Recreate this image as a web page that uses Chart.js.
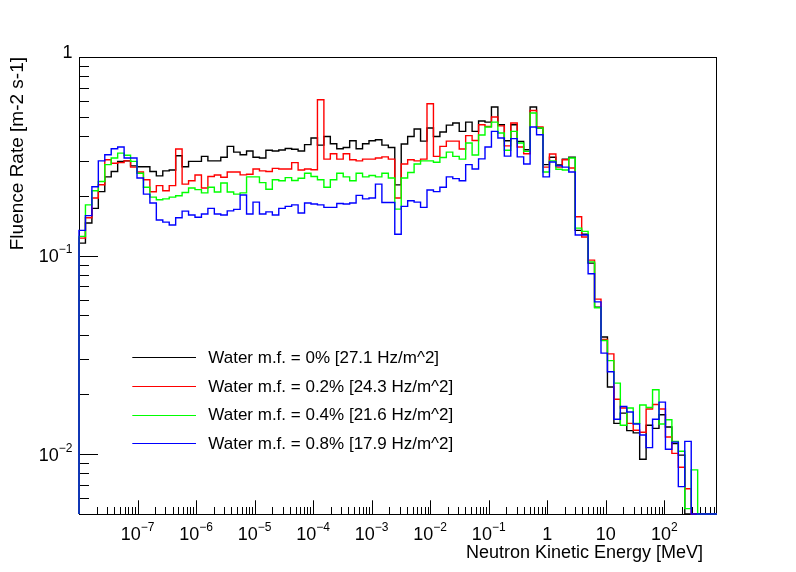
<!DOCTYPE html>
<html>
<head>
<meta charset="utf-8">
<script src="https://cdn.jsdelivr.net/npm/chart.js@4.4.0/dist/chart.umd.min.js"></script>
<style>
  html, body { margin: 0; padding: 0; background: #fff; }
  #wrap { width: 796px; height: 572px; }
</style>
</head>
<body>
<div id="wrap"><canvas id="fluenceChart"></canvas></div>
<script>
// histogram binning: 99 log-spaced bins
const binLogMin = -8;
const binLogMax = 2.9;
const nBins = 99;

const seriesLabels = [
  "Water m.f. = 0% [27.1 Hz/m^2]",
  "Water m.f. = 0.2% [24.3 Hz/m^2]",
  "Water m.f. = 0.4% [21.6 Hz/m^2]",
  "Water m.f. = 0.8% [17.9 Hz/m^2]",
];
const seriesColors = ["#000000", "#ff0000", "#00ff00", "#0000ff"];

// fluence rate per bin [m-2 s-1]
const water0 = [
  0.1156, 0.146, 0.173, 0.21, 0.249, 0.265, 0.298, 0.30, 0.283, 0.28,
  0.28, 0.265, 0.252, 0.267, 0.27, 0.318, 0.28, 0.298, 0.298, 0.316,
  0.30, 0.30, 0.313, 0.355, 0.332, 0.322, 0.336, 0.313, 0.31, 0.339,
  0.336, 0.34, 0.346, 0.343, 0.336, 0.362, 0.391, 0.36, 0.398, 0.366,
  0.345, 0.35, 0.379, 0.345, 0.366, 0.379, 0.383, 0.36, 0.35, 0.227,
  0.365, 0.398, 0.434, 0.377, 0.439, 0.398, 0.419, 0.454, 0.465, 0.422,
  0.47, 0.422, 0.476, 0.47, 0.56, 0.456, 0.379, 0.456, 0.376, 0.341,
  0.56, 0.439, 0.287, 0.313, 0.286, 0.306, 0.313, 0.134, 0.128, 0.0917,
  0.055, 0.0389, 0.0218, 0.0143, 0.0161, 0.01315, 0.0128, 0.00944, 0.014, 0.0135,
  0.0158, 0.0137, 0.0113, 0.0099, 0, 0, 0, 0, 0,
];
const water02 = [
  0.1225, 0.155, 0.195, 0.2275, 0.304, 0.292, 0.294, 0.30, 0.279, 0.2635,
  0.241, 0.2095, 0.225, 0.212, 0.225, 0.344, 0.229, 0.238, 0.2545, 0.219,
  0.25, 0.2545, 0.248, 0.2635, 0.2635, 0.255, 0.257, 0.273, 0.267, 0.265,
  0.275, 0.273, 0.273, 0.294, 0.27, 0.273, 0.2705, 0.609, 0.306, 0.326,
  0.306, 0.326, 0.304, 0.30, 0.306, 0.306, 0.31, 0.314, 0.306, 0.195,
  0.289, 0.304, 0.30, 0.306, 0.582, 0.316, 0.355, 0.377, 0.377, 0.344,
  0.402, 0.38, 0.456, 0.447, 0.499, 0.45, 0.357, 0.465, 0.352, 0.326,
  0.538, 0.444, 0.279, 0.325, 0.279, 0.304, 0.276, 0.157, 0.124, 0.0949,
  0.0604, 0.0378, 0.032, 0.0189, 0.0171, 0.0143, 0.0132, 0.0129, 0.0169, 0.0178,
  0.0169, 0.0122, 0.0101, 0.0086, 0.0067, 0, 0, 0, 0,
];
const water04 = [
  0.125, 0.18, 0.212, 0.236, 0.287, 0.31, 0.328, 0.32, 0.298, 0.26,
  0.221, 0.197, 0.191, 0.193, 0.197, 0.20, 0.208, 0.219, 0.215, 0.207,
  0.221, 0.209, 0.232, 0.209, 0.204, 0.207, 0.249, 0.249, 0.233, 0.216,
  0.241, 0.238, 0.247, 0.239, 0.245, 0.26, 0.25, 0.241, 0.221, 0.241,
  0.26, 0.249, 0.238, 0.26, 0.249, 0.253, 0.249, 0.26, 0.246, 0.1715,
  0.246, 0.262, 0.289, 0.30, 0.30, 0.295, 0.312, 0.332, 0.316, 0.306,
  0.369, 0.321, 0.405, 0.444, 0.47, 0.414, 0.339, 0.422, 0.369, 0.335,
  0.522, 0.439, 0.2635, 0.30, 0.272, 0.27, 0.31, 0.1375, 0.1325, 0.093,
  0.0546, 0.0374, 0.0296, 0.0228, 0.014, 0.0171, 0.0143, 0.0177, 0.0172, 0.0211,
  0.0142, 0.0149, 0.0116, 0.01035, 0.00532, 0.00834, 0, 0, 0,
];
const water08 = [
  0.134, 0.159, 0.222, 0.30, 0.322, 0.345, 0.352, 0.31, 0.31, 0.246,
  0.204, 0.184, 0.151, 0.1475, 0.1425, 0.155, 0.1675, 0.16, 0.156, 0.162,
  0.173, 0.162, 0.16, 0.168, 0.171, 0.202, 0.162, 0.186, 0.162, 0.166,
  0.16, 0.173, 0.177, 0.18, 0.164, 0.184, 0.182, 0.18, 0.175, 0.175,
  0.183, 0.182, 0.184, 0.201, 0.193, 0.195, 0.229, 0.185, 0.185, 0.128,
  0.177, 0.189, 0.186, 0.175, 0.214, 0.21, 0.221, 0.249, 0.244, 0.238,
  0.287, 0.273, 0.307, 0.352, 0.422, 0.391, 0.317, 0.388, 0.314, 0.289,
  0.444, 0.406, 0.249, 0.296, 0.283, 0.279, 0.2635, 0.127, 0.127, 0.081,
  0.0585, 0.0323, 0.026, 0.015, 0.0174, 0.0163, 0.0142, 0.0125, 0.0108, 0.015,
  0.0183, 0.0106, 0.0115, 0.00687, 0.0116, 0, 0, 0, 0,
];

const xTickValues = [1e-7, 1e-6, 1e-5, 1e-4, 1e-3, 1e-2, 1e-1, 1, 10, 100];
const xTickLabels = ["10^-7", "10^-6", "10^-5", "10^-4", "10^-3", "10^-2", "10^-1", "1", "10", "10^2"];
const yTickValues = [0.01, 0.1, 1];
const yTickLabels = ["10^-2", "10^-1", "1"];

const xMin = 1e-8;
const xMax = Math.pow(10, 2.9);
const yMin = 0.005;
const yMax = 1;

const FONT = "'Liberation Sans', Arial, Helvetica, sans-serif";

// outline of a ROOT-style histogram, starting and ending on the baseline
function histPoints(values) {
  const step = (binLogMax - binLogMin) / nBins;
  const edge = (k) => Math.pow(10, binLogMin + k * step);
  const pts = [{ x: edge(0), y: yMin }];
  values.forEach((v, i) => pts.push({ x: edge(i), y: v > 0 ? v : yMin }));
  const last = values[values.length - 1];
  pts.push({ x: edge(nBins), y: last > 0 ? last : yMin });
  pts.push({ x: edge(nBins), y: yMin });
  return pts;
}

function drawPowLabel(ctx, text, x, y, align) {
  const parts = text.split("^");
  const base = parts[0];
  const exp = parts[1] ? parts[1].replace("-", "\u2212") : "";
  ctx.font = "18px " + FONT;
  const wb = ctx.measureText(base).width;
  ctx.font = "12px " + FONT;
  const we = exp ? ctx.measureText(exp).width : 0;
  const w = wb + we;
  let x0 = align === "right" ? x - w : x - w / 2;
  ctx.textAlign = "left";
  ctx.textBaseline = "alphabetic";
  ctx.font = "18px " + FONT;
  ctx.fillText(base, x0, y);
  if (exp) {
    ctx.font = "12px " + FONT;
    ctx.fillText(exp, x0 + wb, y - 9.3);
  }
}

const rootStyle = {
  id: "rootStyle",
  beforeDatasetsDraw(chart) {
    const { ctx, chartArea: a, scales } = chart;
    ctx.save();
    ctx.strokeStyle = "#000";
    ctx.lineWidth = 1;
    ctx.strokeRect(a.left + 0.5, a.top + 0.5, a.right - a.left - 1, a.bottom - a.top);
    ctx.beginPath();
    for (let n = -8; n <= 3; n++) {
      for (let m = 1; m <= 9; m++) {
        const v = m * Math.pow(10, n);
        if (v < xMin || v > xMax) continue;
        const px = Math.round(scales.x.getPixelForValue(v)) + 0.5;
        const len = m === 1 ? 13.7 : 7;
        ctx.moveTo(px, a.bottom);
        ctx.lineTo(px, a.bottom - len);
      }
    }
    for (let n = -3; n <= 0; n++) {
      for (let m = 1; m <= 9; m++) {
        const v = m * Math.pow(10, n);
        if (v < yMin || v > yMax) continue;
        const py = Math.round(scales.y.getPixelForValue(v)) + 0.5;
        const len = m === 1 ? 19 : 10;
        ctx.moveTo(a.left, py);
        ctx.lineTo(a.left + len, py);
      }
    }
    ctx.stroke();
    ctx.restore();
  },
  afterDraw(chart) {
    const { ctx, chartArea: a, scales } = chart;
    ctx.save();
    ctx.fillStyle = "#000";
    xTickValues.forEach((v, i) => {
      drawPowLabel(ctx, xTickLabels[i], scales.x.getPixelForValue(v), a.bottom + 26, "center");
    });
    yTickValues.forEach((v, i) => {
      const py = scales.y.getPixelForValue(v);
      const hasExp = yTickLabels[i].indexOf("^") >= 0;
      drawPowLabel(ctx, yTickLabels[i], a.left - 6.5, py + (hasExp ? 6.7 : 1), "right");
    });

    // axis titles
    ctx.font = "18px " + FONT;
    ctx.textAlign = "right";
    ctx.textBaseline = "alphabetic";
    ctx.fillText("Neutron Kinetic Energy [MeV]", a.right - 14, a.bottom + 44.3);
    ctx.save();
    ctx.font = "19px " + FONT;
    ctx.translate(22.8, a.top);
    ctx.rotate(-Math.PI / 2);
    ctx.fillText("Fluence Rate [m-2 s-1]", 0, 0);
    ctx.restore();

    // legend (no border)
    ctx.font = "17px " + FONT;
    ctx.textAlign = "left";
    seriesLabels.forEach((label, i) => {
      const ry = 357.3 + i * 28.7;
      ctx.strokeStyle = seriesColors[i];
      ctx.lineWidth = 1;
      ctx.beginPath();
      ctx.moveTo(132.3, Math.round(ry) + 0.5);
      ctx.lineTo(196, Math.round(ry) + 0.5);
      ctx.stroke();
      ctx.fillStyle = "#000";
      ctx.fillText(label, 208.3, ry + 5.5);
    });
    ctx.restore();
  },
};

const seriesData = [water0, water02, water04, water08];

new Chart(document.getElementById("fluenceChart").getContext("2d"), {
  type: "line",
  data: {
    datasets: seriesData.map((vals, i) => ({
      label: seriesLabels[i],
      data: histPoints(vals),
      borderColor: seriesColors[i],
      borderWidth: 1.4,
      pointRadius: 0,
      fill: false,
      stepped: "before",
      clip: 2,
      order: 3 - i,
    })),
  },
  options: {
    responsive: true,
    maintainAspectRatio: false,
    animation: false,
    events: [],
    layout: { padding: { top: 57, right: 79, left: 0, bottom: 0 } },
    scales: {
      x: {
        type: "logarithmic",
        min: xMin,
        max: xMax,
        ticks: { display: false },
        grid: { display: false },
        border: { display: false },
        afterFit: (s) => { s.height = 58; },
      },
      y: {
        type: "logarithmic",
        min: yMin,
        max: yMax,
        ticks: { display: false },
        grid: { display: false },
        border: { display: false },
        afterFit: (s) => { s.width = 79; },
      },
    },
    plugins: {
      legend: { display: false },
      tooltip: { enabled: false },
    },
  },
  plugins: [rootStyle],
});
</script>
</body>
</html>
